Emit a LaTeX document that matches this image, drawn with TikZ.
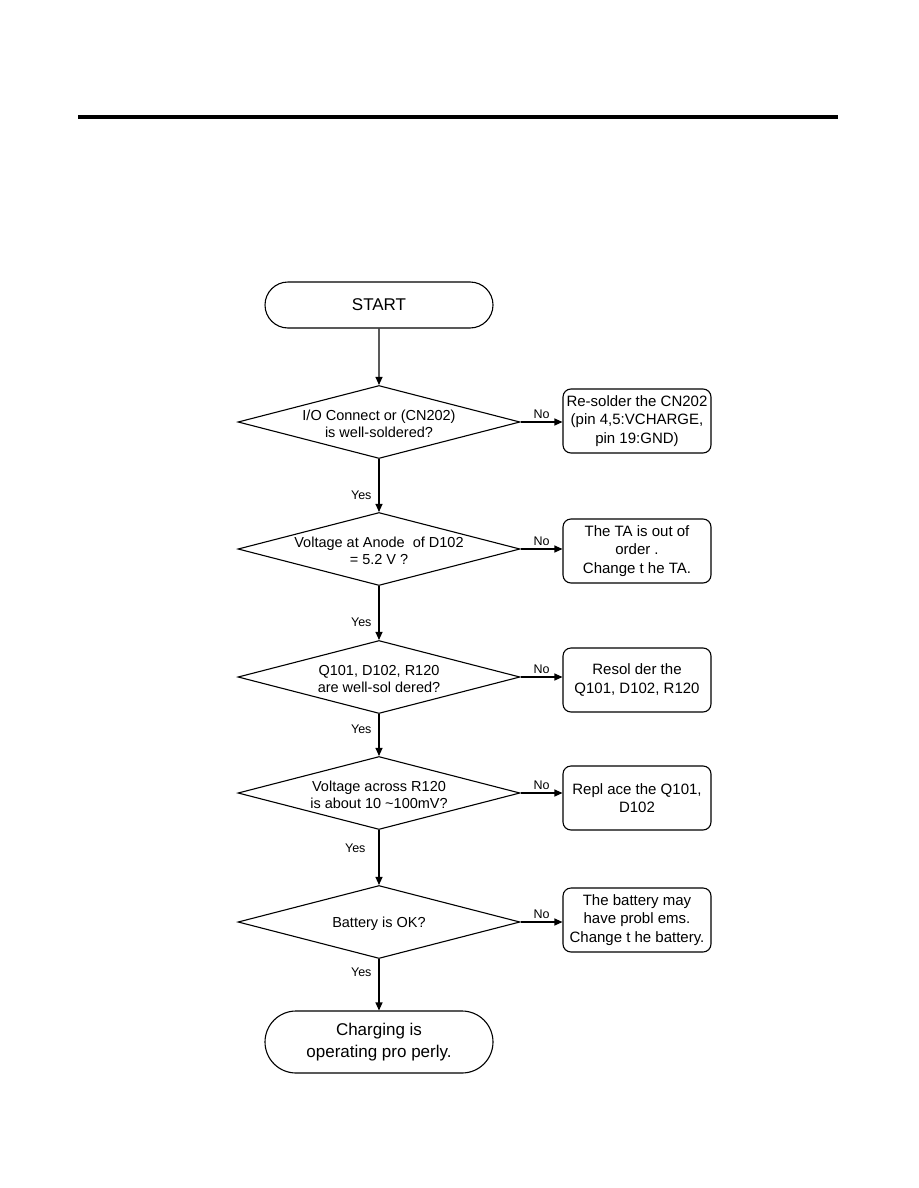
\documentclass[tikz,border=0pt]{standalone}
\usepackage{fontspec}
\setmainfont{Liberation Sans}
\usetikzlibrary{positioning,arrows.meta,shapes.geometric,shapes.misc}
\tikzset{
  every picture/.style={line width=1.1pt},
  term/.style={draw,rounded rectangle,minimum width=228pt,inner sep=0,align=center,font=\fontsize{17}{22}\selectfont},
  dec/.style={draw,diamond,minimum width=282pt,minimum height=73pt,inner sep=0,aspect=3.86},
  dtxt/.style={align=center,inner sep=0,yshift=-2pt,font=\fontsize{14.5}{17.5}\selectfont},
  act/.style={draw,rectangle,rounded corners=8pt,minimum width=148pt,minimum height=64pt,align=center,inner sep=0,font=\fontsize{15}{18.5}\selectfont},
  lbl/.style={font=\fontsize{12.5}{14}\selectfont,inner sep=1pt},
  flow/.style={-{Triangle[length=8pt,width=7pt]},line width=1.1pt},
}

\begin{document}
\begin{tikzpicture}[x=1pt,y=-1pt]
\useasboundingbox (0,0) rectangle (918,1188);
% header rule
\draw[line width=4pt] (78,117) -- (838,117);
% start / end
\node[term,minimum height=46pt] (start) at (379,305) {START};
\node[term,minimum height=62pt] (done) at (379,1042) {Charging is\\operating pro perly.};
% checks
\node[dec] (q1) at (379,422) {};
\node[dtxt] (q1t) at (q1) {I/O Connect or (CN202)\\is well-soldered?};
\node[dec] (q2) at (379,549) {};
\node[dtxt] (q2t) at (q2) {Voltage at Anode\ \ of D102\\= 5.2 V ?};
\node[dec] (q3) at (379,677) {};
\node[dtxt] (q3t) at (q3) {Q101, D102, R120\\are well-sol dered?};
\node[dec] (q4) at (379,793) {};
\node[dtxt] (q4t) at (q4) {Voltage across R120\\is about 10 \textasciitilde100mV?};
\node[dec] (q5) at (379,922) {};
\node[dtxt] (q5t) at (q5) {Battery is OK?};
% repair actions
\node[act] (r1) at (637,421) {Re-solder the CN202\\(pin 4,5:VCHARGE,\\pin 19:GND)};
\node[act] (r2) at (637,551) {The TA is out of\\order .\\Change t he TA.};
\node[act] (r3) at (637,680) {Resol der the\\Q101, D102, R120};
\node[act] (r4) at (637,798) {Repl ace the Q101,\\D102};
\node[act] (r5) at (637,920) {The battery may\\have probl ems.\\Change t he battery.};
% yes path
\draw[flow] (start) -- (q1);
\draw[flow] (q1) -- node[lbl,pos=0.69,left=6pt] {Yes} (q2);
\draw[flow] (q2) -- node[lbl,pos=0.68,left=6pt] {Yes} (q3);
\draw[flow] (q3) -- node[lbl,pos=0.36,left=6pt] {Yes} (q4);
\draw[flow] (q4) -- node[lbl,pos=0.34,left=12pt] {Yes} (q5);
\draw[flow] (q5) -- node[lbl,pos=0.25,left=6pt] {Yes} (done);
% no branches
\draw[flow] (q1.east) -- node[lbl,above=2pt] {No} (q1.east -| r1.west);
\draw[flow] (q2.east) -- node[lbl,above=2pt] {No} (q2.east -| r2.west);
\draw[flow] (q3.east) -- node[lbl,above=2pt] {No} (q3.east -| r3.west);
\draw[flow] (q4.east) -- node[lbl,above=2pt] {No} (q4.east -| r4.west);
\draw[flow] (q5.east) -- node[lbl,above=2pt] {No} (q5.east -| r5.west);
\end{tikzpicture}
\end{document}
